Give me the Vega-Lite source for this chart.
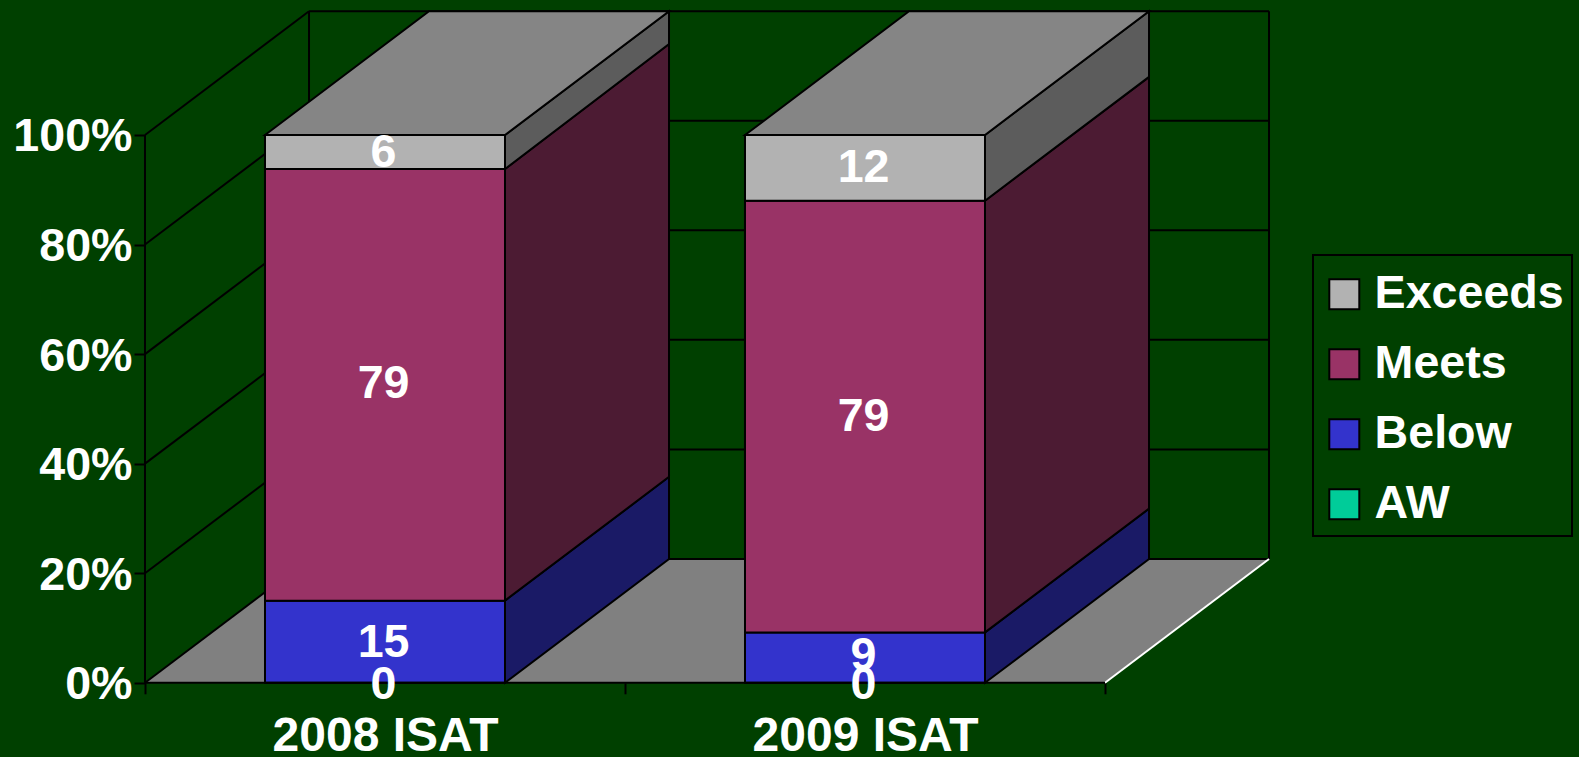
{
"$schema":"https://vega.github.io/schema/vega-lite/v6.json",
"width":1579,"height":757,"autosize":"none","padding":0,"background":"#004000",
"config":{"view":{"stroke":null},"font":"Liberation Sans","legend":{"strokeWidth":2}},
"datasets":{
"grid":[
{"id":"wall0","x":0,"y":0},{"id":"wall0","x":0.3417,"y":22.6},
{"id":"wall20","x":0,"y":20},{"id":"wall20","x":0.3417,"y":42.6},
{"id":"wall40","x":0,"y":40},{"id":"wall40","x":0.3417,"y":62.6},
{"id":"wall60","x":0,"y":60},{"id":"wall60","x":0.3417,"y":82.6},
{"id":"wall80","x":0,"y":80},{"id":"wall80","x":0.3417,"y":102.6},
{"id":"wall100","x":0,"y":100},{"id":"wall100","x":0.3417,"y":122.6},
{"id":"back0","x":0.3417,"y":22.6},{"id":"back0","x":2.3417,"y":22.6},
{"id":"back20","x":0.3417,"y":42.6},{"id":"back20","x":2.3417,"y":42.6},
{"id":"back40","x":0.3417,"y":62.6},{"id":"back40","x":2.3417,"y":62.6},
{"id":"back60","x":0.3417,"y":82.6},{"id":"back60","x":2.3417,"y":82.6},
{"id":"back80","x":0.3417,"y":102.6},{"id":"back80","x":2.3417,"y":102.6},
{"id":"back100","x":0.3417,"y":122.6},{"id":"back100","x":2.3417,"y":122.6},
{"id":"v0","x":0,"y":0},{"id":"v0","x":0,"y":100},
{"id":"v1","x":0.3417,"y":22.6},{"id":"v1","x":0.3417,"y":122.6},
{"id":"v2","x":2.3417,"y":22.6},{"id":"v2","x":2.3417,"y":122.6}
],
"faces":[
{"face":"floor","series":"Floor","x":0,"y":0,"y2":0},
{"face":"floor","series":"Floor","x":0.3417,"y":22.6,"y2":0},
{"face":"floor","series":"Floor","x":2,"y":22.6,"y2":0},
{"face":"floor","series":"Floor","x":2.3417,"y":22.6,"y2":22.6}
],
"sides":[
{"face":"a1","series":"Below side","x":0.75,"y":0,"y2":15},{"face":"a1","series":"Below side","x":1.0917,"y":22.6,"y2":37.6},
{"face":"a2","series":"Meets side","x":0.75,"y":15,"y2":93.8},{"face":"a2","series":"Meets side","x":1.0917,"y":37.6,"y2":116.6},
{"face":"a3","series":"Exceeds side","x":0.75,"y":93.8,"y2":100},{"face":"a3","series":"Exceeds side","x":1.0917,"y":116.6,"y2":122.6},
{"face":"a4","series":"Top","x":0.25,"y":100,"y2":100},{"face":"a4","series":"Top","x":0.5917,"y":122.6,"y2":100},{"face":"a4","series":"Top","x":0.75,"y":122.6,"y2":100},{"face":"a4","series":"Top","x":1.0917,"y":122.6,"y2":122.6},
{"face":"b1","series":"Below side","x":1.75,"y":0,"y2":9.2},{"face":"b1","series":"Below side","x":2.0917,"y":22.6,"y2":31.8},
{"face":"b2","series":"Meets side","x":1.75,"y":9.2,"y2":88},{"face":"b2","series":"Meets side","x":2.0917,"y":31.8,"y2":110.6},
{"face":"b3","series":"Exceeds side","x":1.75,"y":88,"y2":100},{"face":"b3","series":"Exceeds side","x":2.0917,"y":110.6,"y2":122.6},
{"face":"b4","series":"Top","x":1.25,"y":100,"y2":100},{"face":"b4","series":"Top","x":1.5917,"y":122.6,"y2":100},{"face":"b4","series":"Top","x":1.75,"y":122.6,"y2":100},{"face":"b4","series":"Top","x":2.0917,"y":122.6,"y2":122.6}
],
"bars":[
{"test":"2008 ISAT","series":"AW","value":0,"x0":0.25,"x1":0.75,"xc":0.497,"low":0,"high":0,"mid":0},
{"test":"2008 ISAT","series":"Below","value":15,"x0":0.25,"x1":0.75,"xc":0.497,"low":0,"high":15,"mid":7.7},
{"test":"2008 ISAT","series":"Meets","value":79,"x0":0.25,"x1":0.75,"xc":0.497,"low":15,"high":93.8,"mid":54.9},
{"test":"2008 ISAT","series":"Exceeds","value":6,"x0":0.25,"x1":0.75,"xc":0.497,"low":93.8,"high":100,"mid":97},
{"test":"2009 ISAT","series":"AW","value":0,"x0":1.25,"x1":1.75,"xc":1.497,"low":0,"high":0,"mid":0},
{"test":"2009 ISAT","series":"Below","value":9,"x0":1.25,"x1":1.75,"xc":1.497,"low":0,"high":9.2,"mid":5.2},
{"test":"2009 ISAT","series":"Meets","value":79,"x0":1.25,"x1":1.75,"xc":1.497,"low":9.2,"high":88,"mid":48.9},
{"test":"2009 ISAT","series":"Exceeds","value":12,"x0":1.25,"x1":1.75,"xc":1.497,"low":88,"high":100,"mid":94.4}
]
},
"layer":[
{"data":{"name":"bars"},"mark":{"type":"rect","stroke":"#000000","strokeWidth":2},
 "encoding":{
  "x":{"field":"x0","type":"quantitative","scale":{"domain":[-0.30208,2.9875],"nice":false,"zero":false},
   "axis":{"values":[0,0.5,1,1.5,2],"title":null,"grid":false,"domain":false,"orient":"bottom","offset":-74.2,"tickSize":11,"tickWidth":2,"tickColor":"#000000","tickOpacity":{"expr":"datum.value % 1 == 0 ? 1 : 0"},
    "labelExpr":"datum.value == 0.5 ? '2008 ISAT' : datum.value == 1.5 ? '2009 ISAT' : ''","labelFont":"Liberation Sans","labelFontWeight":"bold","labelFontSize":48,"labelColor":"#ffffff","labelPadding":19,"labelOverlap":false,"labelFlush":false,"labelBound":false,"labelLimit":600}},
  "x2":{"field":"x1"},
  "y":{"field":"low","type":"quantitative","scale":{"domain":[-13.545,124.64],"nice":false,"zero":false},
   "axis":{"values":[0,20,40,60,80,100],"title":null,"grid":false,"domain":false,"orient":"left","offset":-145,"tickSize":11,"tickWidth":2,"tickColor":"#000000","labelExpr":"datum.value + '%'","labelFont":"Liberation Sans","labelFontWeight":"bold","labelFontSize":46.6,"labelColor":"#ffffff","labelPadding":2,"labelOffset":2,"labelOverlap":false,"labelFlush":false,"labelBound":false}},
  "y2":{"field":"high"},
  "color":{"field":"series","type":"nominal",
   "scale":{"domain":["Exceeds","Meets","Below","AW","Exceeds side","Meets side","Below side","Top","Floor"],"range":["#B2B2B2","#993366","#3333CC","#00CC99","#5C5C5C","#4C1B33","#1A1A66","#858585","#808080"]},
   "legend":{"values":["Exceeds","Meets","Below","AW"],"title":" ","titleFontSize":8,"titlePadding":0,"orient":"none","legendX":1313,"legendY":255,"symbolType":"square","symbolSize":900,"symbolStrokeColor":"#000000","symbolStrokeWidth":2,"labelFont":"Liberation Sans","labelFontWeight":"bold","labelFontSize":46.6,"labelColor":"#ffffff","rowPadding":23,"padding":8,"labelOffset":7,"strokeColor":"#000000","fillColor":"#004000","symbolOpacity":1,"labelLimit":400,
    "encoding":{"labels":{"update":{"dy":{"value":4}}}}}}
 }},
{"data":{"name":"faces"},"mark":{"type":"area"},
 "encoding":{
  "x":{"field":"x","type":"quantitative"},
  "y":{"field":"y","type":"quantitative"},
  "y2":{"field":"y2"},
  "detail":{"field":"face"},
  "color":{"field":"series","type":"nominal","legend":null}
 }},
{"data":{"name":"grid"},"mark":{"type":"line","color":"#000000","strokeWidth":2},
 "encoding":{
  "x":{"field":"x","type":"quantitative"},
  "y":{"field":"y","type":"quantitative"},
  "detail":{"field":"id"}
 }},
{"data":{"values":[{"x":2,"y":0},{"x":2.3417,"y":22.6}]},"mark":{"type":"line","color":"#ffffff","strokeWidth":2},
 "encoding":{"x":{"field":"x","type":"quantitative"},"y":{"field":"y","type":"quantitative"}}},
{"data":{"name":"sides"},"mark":{"type":"area","stroke":"#000000","strokeWidth":2},
 "encoding":{
  "x":{"field":"x","type":"quantitative"},
  "y":{"field":"y","type":"quantitative"},
  "y2":{"field":"y2"},
  "detail":{"field":"face"},
  "color":{"field":"series","type":"nominal","legend":null}
 }},
{"data":{"name":"bars"},"mark":{"type":"rect","stroke":"#000000","strokeWidth":2},
 "encoding":{
  "x":{"field":"x0","type":"quantitative"},"x2":{"field":"x1"},
  "y":{"field":"low","type":"quantitative"},"y2":{"field":"high"},
  "color":{"field":"series","type":"nominal","legend":null}
 }},
{"data":{"values":[{"x":0,"y":0},{"x":2,"y":0}]},"mark":{"type":"line","color":"#000000","strokeWidth":2},
 "encoding":{"x":{"field":"x","type":"quantitative"},"y":{"field":"y","type":"quantitative"}}},
{"data":{"name":"bars"},"mark":{"type":"text","color":"#ffffff","font":"Liberation Sans","fontWeight":"bold","fontSize":46.6,"baseline":"middle","align":"center","dy":2},
 "encoding":{
  "x":{"field":"xc","type":"quantitative"},
  "y":{"field":"mid","type":"quantitative"},
  "text":{"field":"value","type":"quantitative"}
 }}
]
}
